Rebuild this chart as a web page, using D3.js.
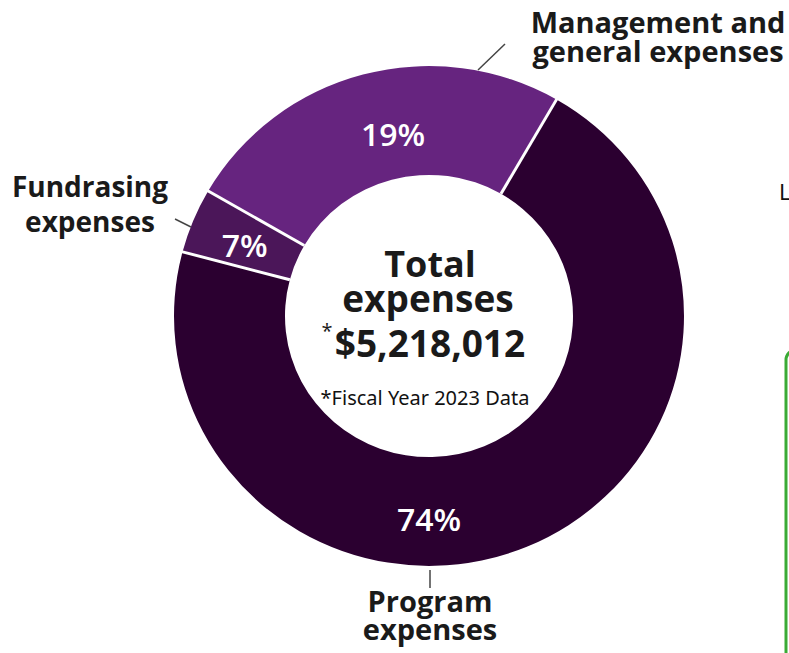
<!DOCTYPE html>
<html>
<head>
<meta charset="utf-8">
<script src="https://cdn.jsdelivr.net/npm/d3@7"></script>
<style>
  body { margin: 0; background: #fff; }
  svg { display: block; }
  .lbl { font-family: "Open Sans", sans-serif; font-weight: 700; fill: #1a1a1a; }
</style>
</head>
<body>
<div id="chart"></div>
<script>
// slices in drawing order (clockwise from the management/fundraising split)
var categories = ["Management and general expenses", "Program expenses", "Fundrasing expenses"];
var percentLabels = ["19%", "74%", "7%"];
// arc sizes as drawn in the original graphic (they don't follow the printed %)
var arcShares = [25, 70.8, 4.2];
var totalText = "$5,218,012";
var footnote = "*Fiscal Year 2023 Data";

var width = 789, height = 653;
var cx = 429, cy = 316;
var outerR = 255, innerR = 144;
var colors = ["#66247f", "#2b0030", "#4b1659"];

var svg = d3.select("#chart").append("svg")
    .attr("width", width)
    .attr("height", height);

var pie = d3.pie()
    .sort(null)
    .value(function(d) { return d; })
    .startAngle(-60 * Math.PI / 180)
    .endAngle(300 * Math.PI / 180);

var arc = d3.arc().innerRadius(innerR).outerRadius(outerR);

var g = svg.append("g")
    .attr("transform", "translate(" + cx + "," + cy + ") scale(1,0.98)");

var arcs = pie(arcShares);

g.selectAll("path.slice")
    .data(arcs)
    .enter()
    .append("path")
    .attr("class", "slice")
    .attr("d", arc)
    .attr("fill", function(d, i) { return colors[i]; });

// white separators between slices
g.selectAll("line.sep")
    .data(arcs)
    .enter()
    .append("line")
    .attr("x1", function(d) { return innerR * Math.sin(d.startAngle); })
    .attr("y1", function(d) { return -innerR * Math.cos(d.startAngle); })
    .attr("x2", function(d) { return (outerR + 2) * Math.sin(d.startAngle); })
    .attr("y2", function(d) { return -(outerR + 2) * Math.cos(d.startAngle); })
    .attr("stroke", "#fff")
    .attr("stroke-width", 3);

// percent labels (angle in degrees, radius)
var pctPos = [
  {a: -11, r: 188},
  {a: 180, r: 208},
  {a: -68.6, r: 198}
];
g.selectAll("text.pct")
    .data(arcs)
    .enter()
    .append("text")
    .attr("class", "pct")
    .attr("x", function(d, i) { return pctPos[i].r * Math.sin(pctPos[i].a * Math.PI / 180); })
    .attr("y", function(d, i) { return -pctPos[i].r * Math.cos(pctPos[i].a * Math.PI / 180); })
    .attr("dy", "0.36em")
    .attr("text-anchor", "middle")
    .attr("font-family", "Open Sans, sans-serif")
    .attr("font-weight", 600)
    .attr("font-size", 32)
    .attr("fill", "#fff")
    .text(function(d, i) { return percentLabels[i]; });

// center text
var center = svg.append("g").attr("class", "lbl");
center.append("text").attr("x", 430).attr("y", 277).attr("text-anchor", "middle")
    .attr("font-size", 36).text("Total");
center.append("text").attr("x", 428).attr("y", 312).attr("text-anchor", "middle")
    .attr("font-size", 37).text("expenses");
center.append("text").attr("x", 430).attr("y", 357).attr("text-anchor", "middle")
    .attr("font-size", 37).text(totalText);
center.append("text").attr("x", 327).attr("y", 338).attr("text-anchor", "middle")
    .attr("font-size", 20).attr("font-weight", 400).text("*");
svg.append("text").attr("x", 425).attr("y", 405).attr("text-anchor", "middle")
    .attr("font-family", "Noto Sans, sans-serif").attr("font-size", 20).attr("fill", "#111")
    .text(footnote);

// outside category labels
var outside = [
  {lines: ["Management and", "general expenses"], x: 658, y: [33, 62], size: 29},
  {lines: ["Program", "expenses"], x: 430, y: [612, 640], size: 29},
  {lines: ["Fundrasing", "expenses"], x: 90, y: [197, 232], size: 28}
];
outside.forEach(function(o, i) {
  var t = svg.append("text").attr("class", "lbl").attr("text-anchor", "middle")
      .attr("font-size", o.size).attr("aria-label", categories[i]);
  o.lines.forEach(function(line, j) {
    t.append("tspan").attr("x", o.x).attr("y", o.y[j]).text(line);
  });
});

// leader lines
var leaders = [[478, 70, 505, 44], [430, 570, 430, 588], [175, 219, 191, 227]];
svg.selectAll("line.leader")
    .data(leaders)
    .enter()
    .append("line")
    .attr("x1", function(d) { return d[0]; })
    .attr("y1", function(d) { return d[1]; })
    .attr("x2", function(d) { return d[2]; })
    .attr("y2", function(d) { return d[3]; })
    .attr("stroke", "#444")
    .attr("stroke-width", 1.5);

// bits of neighbouring page content at the right edge
svg.append("text").attr("x", 779).attr("y", 200)
    .attr("font-family", "Noto Sans, sans-serif").attr("font-size", 22).attr("fill", "#111")
    .text("L");
svg.append("rect").attr("x", 786).attr("y", 350).attr("width", 40).attr("height", 400)
    .attr("rx", 10).attr("fill", "none").attr("stroke", "#3aaa35").attr("stroke-width", 3);
</script>
</body>
</html>
